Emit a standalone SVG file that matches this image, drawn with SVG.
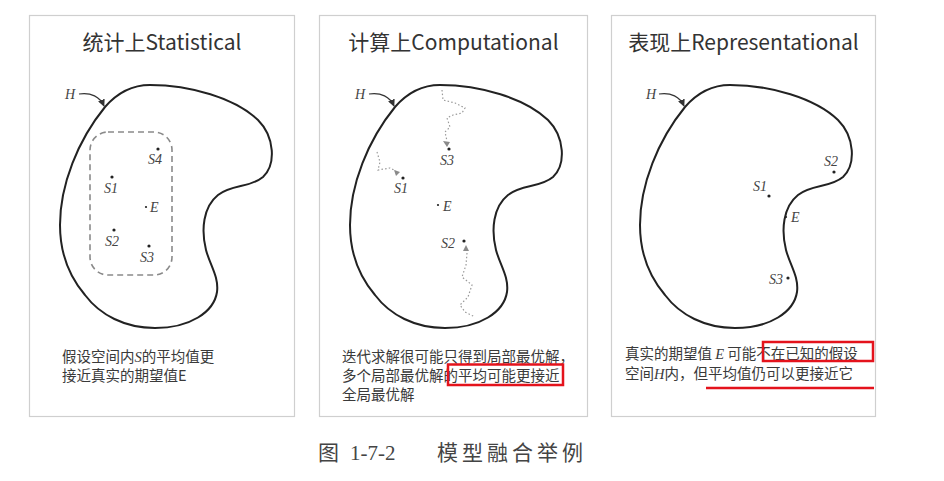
<svg xmlns="http://www.w3.org/2000/svg" width="944" height="481" viewBox="0 0 944 481">
<style>
.panel{fill:#fff;stroke:#cfcfcf;stroke-width:1.2}
.title{font-family:"Noto Sans CJK SC","Noto Sans",sans-serif;font-size:21px;fill:#333;text-anchor:middle}
.body{font-family:"Noto Sans CJK SC","Noto Sans",sans-serif;font-size:14.5px;fill:#3a3a3a}
.lbl{font-family:"Liberation Serif",serif;font-style:italic;font-size:14px;fill:#444}
.blob{fill:none;stroke:#222;stroke-width:2}
.dot{fill:#222}
.walk{fill:none;stroke:#9a9a9a;stroke-width:1.2;stroke-dasharray:1.5 2.2}
.tri{fill:#8a8a8a}
.harrow{fill:none;stroke:#333;stroke-width:1.2;marker-end:url(#ah)}
.red{fill:none;stroke:#e4131c;stroke-width:2.5}
.cap{font-family:"Liberation Serif","Noto Sans CJK SC",serif;font-size:21px;fill:#444}
</style>
<defs>
<marker id="ah" viewBox="0 0 10 10" refX="9" refY="5" markerWidth="6" markerHeight="6" orient="auto"><path d="M0,0 L10,5 L0,10 Z" fill="#333"/></marker>
<path id="blobshape" d="M105,107 C118,92 132,85 150,85 C190,85 235,98 258,120 C275,137 276,165 263,177 C250,188 232,184 218,195 C203,207 201,230 206,250 C210,265 219,277 217,292 C214,312 190,328 155,328 C125,328 100,315 85,295 C68,275 60,250 60,225 C60,185 78,140 105,107 Z"/>
</defs>
<rect width="944" height="481" fill="#fff"/>

<g id="panel-statistical">
<rect class="panel" x="29.5" y="15.5" width="265" height="401"/>
<text class="title" x="162" y="50">统计上Statistical</text>
<use href="#blobshape" class="blob"/>
<text class="lbl" x="65" y="99">H</text>
<path class="harrow" d="M79,94 C91,92 100,97 104,106"/>
<rect x="90" y="132" width="82" height="143" rx="18" ry="18" fill="none" stroke="#8a8a8a" stroke-width="1.6" stroke-dasharray="6 4"/>
<circle class="dot" cx="158" cy="149" r="1.6"/><text class="lbl" x="148" y="164">S4</text>
<circle class="dot" cx="112" cy="177" r="1.6"/><text class="lbl" x="104" y="193">S1</text>
<circle class="dot" cx="146" cy="207" r="1.1"/><text class="lbl" x="150" y="212">E</text>
<circle class="dot" cx="114" cy="230" r="1.6"/><text class="lbl" x="105" y="246">S2</text>
<circle class="dot" cx="149" cy="246" r="1.6"/><text class="lbl" x="140" y="262">S3</text>
<text class="body" x="62" y="362">假设空间内<tspan font-family="Liberation Serif" font-style="italic">S</tspan>的平均值更</text>
<text class="body" x="62" y="381">接近真实的期望值E</text>
</g>

<g id="panel-computational">
<rect class="panel" x="319.5" y="15.5" width="268" height="401"/>
<text class="title" x="453.5" y="50">计算上Computational</text>
<use href="#blobshape" class="blob" transform="translate(290,0)"/>
<text class="lbl" x="355" y="99">H</text>
<path class="harrow" d="M369,94 C381,92 390,97 394,106"/>
<path class="walk" d="M442,90 L443,100 L455,103 L465,108 L462,113 L453,115 L447,118 L450,127 L445,132 L447,141"/>
<path class="tri" d="M443,141 L450,142 L447,147 Z"/>
<circle class="dot" cx="449" cy="149" r="1.6"/><text class="lbl" x="440" y="165">S3</text>
<path class="walk" d="M377,152 L380,162 L378,170 L390,168 L396,171"/>
<path class="tri" d="M394,170 L400,172 L396,176 Z"/>
<circle class="dot" cx="403" cy="178" r="1.6"/><text class="lbl" x="394" y="193">S1</text>
<circle class="dot" cx="438" cy="205" r="1.1"/><text class="lbl" x="443" y="211">E</text>
<circle class="dot" cx="464" cy="241" r="1.6"/><text class="lbl" x="441" y="248">S2</text>
<path class="tri" d="M466,245 L463,251 L469,251 Z"/>
<path class="walk" d="M467,253 L466,265 L462,277 L472,285 L468,297 L460,305 L465,312 L475,317"/>
<text class="body" x="342" y="362">迭代求解很可能只得到局部最优解，</text>
<text class="body" x="342" y="381">多个局部最优解的平均可能更接近</text>
<text class="body" x="342" y="400">全局最优解</text>
<rect class="red" x="448" y="364.5" width="115" height="20.5"/>
</g>

<g id="panel-representational">
<rect class="panel" x="611.5" y="15.5" width="264" height="401"/>
<text class="title" x="743.5" y="50">表现上Representational</text>
<use href="#blobshape" class="blob" transform="translate(580,0)"/>
<text class="lbl" x="646" y="99">H</text>
<path class="harrow" d="M659,94 C671,92 680,97 684,106"/>
<circle class="dot" cx="834" cy="172" r="1.6"/><text class="lbl" x="824" y="166">S2</text>
<circle class="dot" cx="769" cy="196" r="1.6"/><text class="lbl" x="753" y="191">S1</text>
<circle class="dot" cx="786" cy="217" r="1.1"/><text class="lbl" x="791" y="222">E</text>
<circle class="dot" cx="788" cy="278" r="1.6"/><text class="lbl" x="769" y="284">S3</text>
<text class="body" x="625" y="359" font-size="15">真实的期望值 <tspan font-family="Liberation Serif" font-style="italic">E</tspan> 可能不在已知的假设</text>
<text class="body" x="625" y="379" font-size="15">空间<tspan font-family="Liberation Serif" font-style="italic">H</tspan>内，但平均值仍可以更接近它</text>
<rect class="red" x="763" y="342" width="110" height="19"/>
<line class="red" x1="706" y1="388" x2="874" y2="388"/>
</g>

<g id="caption">
<text class="cap" x="318" y="460">图</text>
<text class="cap" x="350" y="460">1-7-2</text>
<text class="cap" x="437" y="460" letter-spacing="4">模型融合举例</text>
</g>
</svg>
